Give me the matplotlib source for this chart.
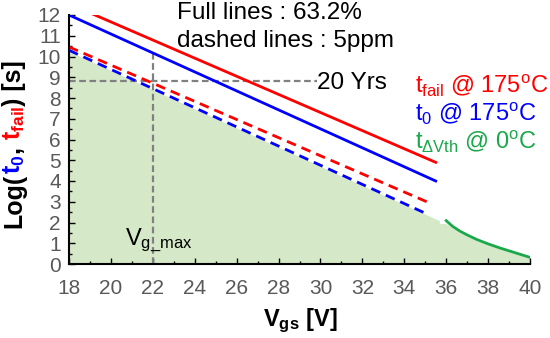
import matplotlib
matplotlib.use("Agg")
import matplotlib.pyplot as plt
from matplotlib.ticker import MultipleLocator
from matplotlib.transforms import IdentityTransform

# ── Dati ─────────────────────────────────────────────────────────────────────
# estremi delle rette (Vgs [V], log10 t [s])
vgs_line      = [18.0, 35.5]
tfail_full    = [12.54, 4.9]     # tfail @175C, 63.2 %
t0_full       = [12.0, 4.0]      # t0 @175C, 63.2 %
vgs_dash_red  = [18.0, 35.3]
tfail_dash    = [10.46, 2.9]     # tfail, 5 ppm
vgs_dash_blue = [18.0, 35.0]
t0_dash       = [10.30, 2.45]    # t0, 5 ppm

# curva t_dVth @ 0C
vgs_dvth = [36.0, 36.3, 36.66, 37.0, 37.46, 38.0, 38.57, 39.3, 40.0]
t_dvth   = [2.09, 1.82, 1.58, 1.40, 1.18, 0.97, 0.77, 0.54, 0.32]

# bordo superiore dell'area verde
vgs_area = [18.0, 35.66, 35.7, 36.0, 36.66, 37.46, 38.57, 40.0]
t_area   = [10.25, 2.10, 1.95, 1.95, 1.50, 1.12, 0.73, 0.30]

years20_log = 8.8
vg_max      = 22.0
vg_max_top  = 10.17

RED, BLUE, GREEN = "#ff0000", "#0000ff", "#1aa84a"
GRAY_TXT = "#595959"
FONT = "Liberation Sans"
# ─────────────────────────────────────────────────────────────────────────────

plt.rcParams["font.family"] = FONT
plt.rcParams["mathtext.fontset"] = "custom"
plt.rcParams["mathtext.rm"] = FONT
plt.rcParams["mathtext.it"] = FONT
plt.rcParams["mathtext.bf"] = FONT + ":bold"
plt.rcParams["mathtext.default"] = "regular"

fig = plt.figure(figsize=(5.5, 3.38), dpi=100)
ax = fig.add_axes([69 / 550, 1 - 264 / 338, (530 - 69) / 550, (264 - 15) / 338])

ax.fill_between(vgs_area, t_area, 0, color="#d5e9c8", lw=0, zorder=1)

ax.plot([18, 29.84], [years20_log, years20_log], color="#808080", lw=1.6,
        dashes=(3, 1.6), zorder=2)
ax.plot([vg_max, vg_max], [0, vg_max_top], color="#808080", lw=1.6,
        dashes=(3, 1.6), zorder=2)

ax.plot(vgs_line, tfail_full, color=RED, lw=2.0, zorder=3)
ax.plot(vgs_line, t0_full, color=BLUE, lw=2.0, zorder=3)
ax.plot(vgs_dash_red, tfail_dash, color=RED, lw=2.0, dashes=(3.5, 2.2), zorder=3)
ax.plot(vgs_dash_blue, t0_dash, color=BLUE, lw=2.0, dashes=(3.5, 2.2), zorder=3)
ax.plot(vgs_dvth, t_dvth, color=GREEN, lw=2.0, zorder=3)

ax.set_xlim(18, 40)
ax.set_ylim(0, 12)
ax.xaxis.set_major_locator(MultipleLocator(2))
ax.xaxis.set_minor_locator(MultipleLocator(1))
ax.yaxis.set_major_locator(MultipleLocator(1))
ax.yaxis.set_minor_locator(MultipleLocator(0.5))
ax.tick_params(which="both", direction="in", colors="black", labelcolor=GRAY_TXT,
               labelsize=15, top=False, right=False)
ax.tick_params(which="major", length=4, width=1)
ax.tick_params(which="minor", length=2, width=1)
ax.tick_params(axis="x", pad=11)
ax.tick_params(axis="y", pad=6)
for s in ("top", "right"):
    ax.spines[s].set_visible(False)
for s in ("left", "bottom"):
    ax.spines[s].set_linewidth(1.5)
    ax.spines[s].set_zorder(4)

# testi
ax.text(23.15, 11.8, "Full lines : 63.2%", fontsize=17.5, color="black",
        clip_on=False)
ax.text(23.15, 10.46, "dashed lines : 5ppm", fontsize=17.5, color="black")
ax.text(29.85, 8.45, "20 Yrs", fontsize=17.5, color="black")
ax.text(20.65, 0.92, r"V$_{g\_max}$", fontsize=17, color="black")

ax.text(34.5, 8.29, r"t$_{fail}$ @ 175$^{o}$C", fontsize=17, color=RED,
        clip_on=False)
ax.text(34.5, 6.94, r"t$_{0}$ @ 175$^{o}$C", fontsize=17, color=BLUE,
        clip_on=False)
ax.text(34.5, 5.59, r"t$_{ΔVth}$ @ 0$^{o}$C", fontsize=17, color=GREEN,
        clip_on=False)

# etichetta asse x
fig.text(300 / 550, 1 - 326 / 338, r"$\mathbf{V}_{\mathbf{gs}}$ [V]",
         fontsize=17, fontweight="bold", ha="center", va="baseline")

# etichetta asse y a più colori, pezzo per pezzo
pieces = [("Log(", "black"), (r"$\mathbf{t}_{\mathbf{0}}$", BLUE), (", ", "black"),
          (r"$\mathbf{t}_{\mathbf{fail}}$", RED), (") [s]", "black")]
fig.canvas.draw()
renderer = fig.canvas.get_renderer()
x_base = 21
y_cur = 338 - 228
for s, c in pieces:
    t = fig.text(x_base, y_cur, s, color=c, fontsize=18, fontweight="bold",
                 rotation=90, rotation_mode="anchor", ha="left", va="baseline",
                 transform=IdentityTransform())
    bb = t.get_window_extent(renderer)
    y_cur += bb.height

fig.savefig("out.png", dpi=100)
